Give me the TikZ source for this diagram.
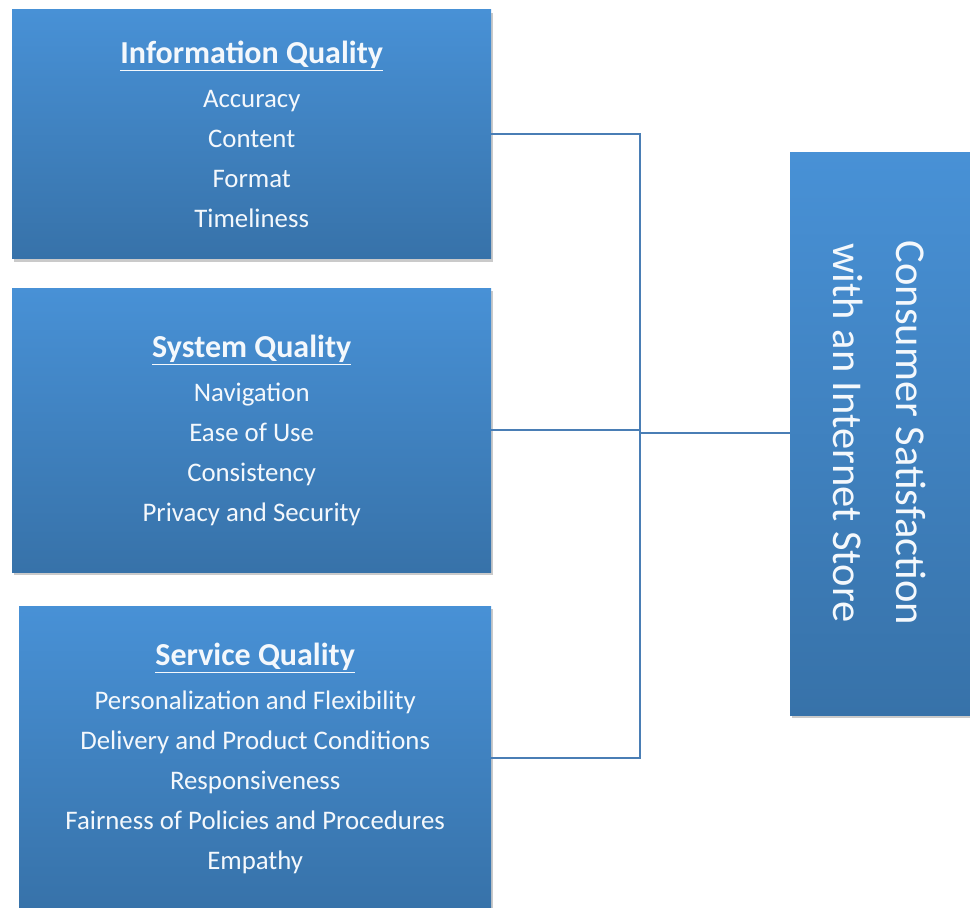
\documentclass[tikz,border=0pt]{standalone}
\usepackage{fontspec}
\setmainfont{Carlito}
\usetikzlibrary{shadows}
\definecolor{btop}{HTML}{4891D6}
\definecolor{bbot}{HTML}{3772A9}
\definecolor{conncol}{HTML}{4A7EB5}
\definecolor{txt}{HTML}{F4F8FC}
\tikzset{
  qbox/.style={draw=none, shading=axis, top color=btop, bottom color=bbot,
    drop shadow={shadow xshift=2pt, shadow yshift=-3pt, opacity=0.35, fill=black!60},
    text=txt, align=center, anchor=north west, inner sep=0pt,
    font=\fontsize{26.8}{40}\selectfont},
  conn/.style={draw=conncol, line width=1.8pt}
}
\newcommand{\qtitle}[1]{{\fontsize{32}{40}\selectfont\bfseries\underline{#1}}\\[4pt]}
\begin{document}
\begin{tikzpicture}[x=1pt,y=-1pt]
\useasboundingbox (0,0) rectangle (970,908);
\clip (0,0) rectangle (970,908);
\node[qbox, minimum width=479pt, minimum height=249pt] (b1) at (12,9.5)
  {\qtitle{Information Quality}Accuracy\\Content\\Format\\Timeliness};
\node[qbox, minimum width=479pt, minimum height=284pt] (b2) at (12,288)
  {\qtitle{System Quality}Navigation\\Ease of Use\\Consistency\\Privacy and Security};
\node[qbox, minimum width=472pt, minimum height=304pt] (b3) at (19,606)
  {\qtitle{Service Quality}Personalization and Flexibility\\Delivery and Product Conditions\\Responsiveness\\Fairness of Policies and Procedures\\Empathy};
\node[qbox, minimum width=190pt, minimum height=563pt] (c) at (790,152) {};
\node[text=txt, rotate=-90, align=center, font=\fontsize{42.5}{63}\selectfont] (ct) at (880,433)
  {Consumer Satisfaction\\with an Internet Store};
\coordinate (v) at (640,433);
\draw[conn] (b1.east) -| (v);
\draw[conn] (b3.east) -| (v);
\draw[conn] (b2.east) -- (b2.east -| v);
\draw[conn] (v) -- (c.west |- v);
\end{tikzpicture}
\end{document}
